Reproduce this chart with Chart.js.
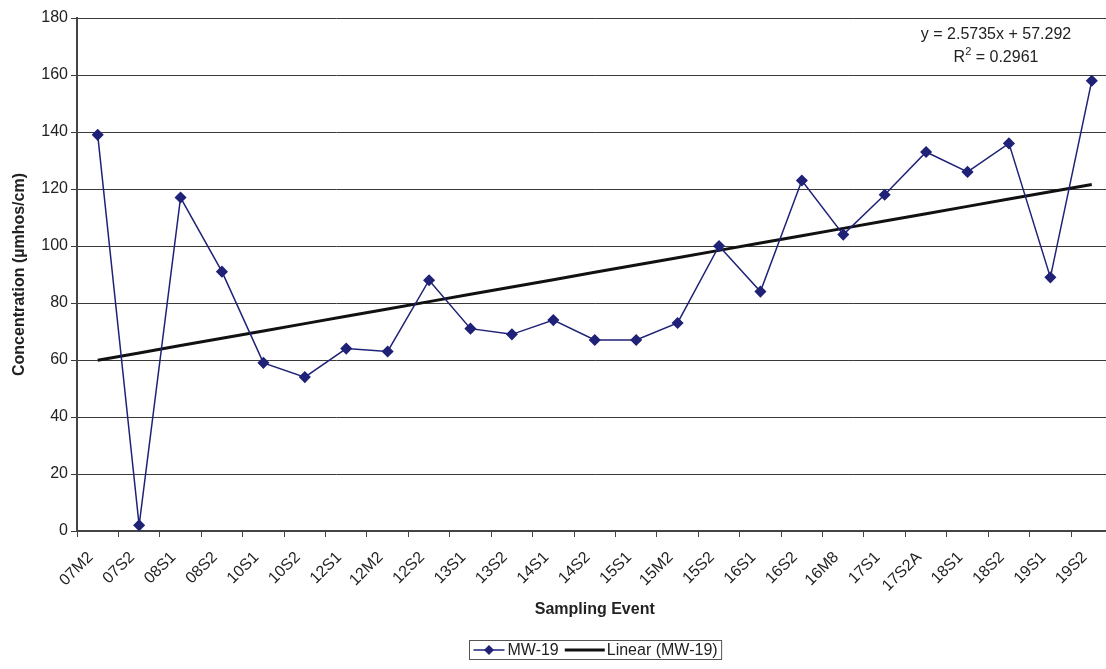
<!DOCTYPE html>
<html>
<head>
<meta charset="utf-8">
<title>MW-19</title>
<script src="https://cdn.jsdelivr.net/npm/chart.js@4.4.1/dist/chart.umd.min.js"></script>
<style>
  html, body { margin: 0; padding: 0; background: #fff; overflow: hidden; }
  #wrap { width: 1119px; height: 669px; }
</style>
</head>
<body>
<div id="wrap"><canvas id="chart"></canvas></div>
<script>
const events = ["07M2", "07S2", "08S1", "08S2", "10S1", "10S2", "12S1", "12M2", "12S2", "13S1",
  "13S2", "14S1", "14S2", "15S1", "15M2", "15S2", "16S1", "16S2", "16M8", "17S1",
  "17S2A", "18S1", "18S2", "19S1", "19S2"];
const mw19 = [139, 2, 117, 91, 59, 54, 64, 63, 88, 71,
  69, 74, 67, 67, 73, 100, 84, 123, 104, 118,
  133, 126, 136, 89, 158];
const yMin = 0;
const yMax = 180;
const yStep = 20;
const equationText = "y = 2.5735x + 57.292";
const r2Value = "0.2961";

// least squares trend over event number 1..n (Excel style)
function linearFit(values) {
  const n = values.length;
  let sx = 0, sy = 0, sxy = 0, sxx = 0;
  values.forEach((v, i) => {
    const x = i + 1;
    sx += x; sy += v; sxy += x * v; sxx += x * x;
  });
  const slope = (n * sxy - sx * sy) / (n * sxx - sx * sx);
  const intercept = (sy - slope * sx) / n;
  return values.map((v, i) => intercept + slope * (i + 1));
}
const trend = linearFit(mw19);

const FONT = '"Liberation Sans", Arial, sans-serif';
const navy = "#1f2277";

const extras = {
  id: "extras",
  afterDraw(chart) {
    const { ctx, chartArea } = chart;
    ctx.save();
    ctx.fillStyle = "#222";
    ctx.textBaseline = "middle";

    // trendline equation
    const ex = 996;
    ctx.font = "16px " + FONT;
    ctx.textAlign = "center";
    ctx.fillText(equationText, ex, 35);

    const rest = " = " + r2Value;
    const wR = ctx.measureText("R").width;
    const wRest = ctx.measureText(rest).width;
    ctx.font = "11px " + FONT;
    const wSup = ctx.measureText("2").width;
    let x = ex - (wR + wSup + wRest) / 2;
    ctx.textAlign = "left";
    ctx.font = "16px " + FONT;
    ctx.fillText("R", x, 58);
    x += wR;
    ctx.font = "11px " + FONT;
    ctx.fillText("2", x, 52);
    x += wSup;
    ctx.font = "16px " + FONT;
    ctx.fillText(rest, x, 58);

    // legend
    const l1 = "MW-19", l2 = "Linear (MW-19)";
    const w1 = ctx.measureText(l1).width;
    const w2 = ctx.measureText(l2).width;
    const seg1 = 31, seg2 = 40;
    const total = 4 + seg1 + 3 + w1 + 6 + seg2 + 2 + w2 + 4;
    const cx = (chartArea.left + chartArea.right) / 2;
    const bx = Math.round(cx - total / 2) + 0.5;
    const by = 640.5, bh = 19;
    ctx.strokeStyle = "#555";
    ctx.lineWidth = 1;
    ctx.strokeRect(bx, by, total, bh);
    const ly = by + bh / 2;
    let lx = bx + 4;
    ctx.strokeStyle = navy;
    ctx.lineWidth = 1.5;
    ctx.beginPath();
    ctx.moveTo(lx, ly);
    ctx.lineTo(lx + seg1, ly);
    ctx.stroke();
    ctx.fillStyle = navy;
    ctx.beginPath();
    const dx = lx + seg1 / 2;
    ctx.moveTo(dx, ly - 5);
    ctx.lineTo(dx + 5, ly);
    ctx.lineTo(dx, ly + 5);
    ctx.lineTo(dx - 5, ly);
    ctx.closePath();
    ctx.fill();
    lx += seg1 + 3;
    ctx.fillStyle = "#222";
    ctx.fillText(l1, lx, ly + 1);
    lx += w1 + 6;
    ctx.strokeStyle = "#111";
    ctx.lineWidth = 3;
    ctx.beginPath();
    ctx.moveTo(lx, ly);
    ctx.lineTo(lx + seg2, ly);
    ctx.stroke();
    lx += seg2 + 2;
    ctx.fillText(l2, lx, ly + 1);
    ctx.restore();
  },
};

new Chart(document.getElementById("chart"), {
  type: "line",
  data: {
    labels: events,
    datasets: [
      {
        label: "MW-19",
        data: mw19,
        borderColor: navy,
        backgroundColor: navy,
        borderWidth: 1.5,
        pointStyle: "rectRot",
        pointRadius: 5,
        pointHoverRadius: 5,
        tension: 0,
      },
      {
        label: "Linear (MW-19)",
        data: trend,
        borderColor: "#111",
        borderWidth: 3,
        pointRadius: 0,
        tension: 0,
      },
    ],
  },
  options: {
    responsive: true,
    maintainAspectRatio: false,
    animation: false,
    layout: { padding: { top: 18, right: 2, left: 4, bottom: 38 } },
    plugins: {
      legend: { display: false },
      tooltip: { enabled: false },
    },
    scales: {
      x: {
        type: "category",
        offset: true,
        grid: {
          offset: true,
          drawOnChartArea: false,
          drawTicks: true,
          tickLength: 6,
          color: "#444",
        },
        border: { color: "#444", width: 2 },
        ticks: {
          autoSkip: false,
          minRotation: 45,
          maxRotation: 45,
          padding: 11,
          labelOffset: -7,
          color: "#222",
          font: { family: FONT, size: 16 },
        },
        title: {
          display: true,
          text: "Sampling Event",
          color: "#222",
          font: { family: FONT, size: 16, weight: "bold" },
          padding: { top: 4, bottom: 12 },
        },
        afterFit(scale) {
          scale.height = 100;
        },
      },
      y: {
        min: yMin,
        max: yMax,
        grid: {
          color: "#3a3a3a",
          lineWidth: 1,
          drawTicks: true,
          tickLength: 6,
        },
        border: { color: "#444", width: 2 },
        ticks: {
          stepSize: yStep,
          padding: 3,
          color: "#222",
          font: { family: FONT, size: 16 },
        },
        title: {
          display: true,
          text: "Concentration (µmhos/cm)",
          color: "#222",
          font: { family: FONT, size: 16, weight: "bold" },
          padding: { top: 6, bottom: 4 },
        },
        afterFit(scale) {
          scale.width = 73;
        },
      },
    },
  },
  plugins: [extras],
});
</script>
</body>
</html>
